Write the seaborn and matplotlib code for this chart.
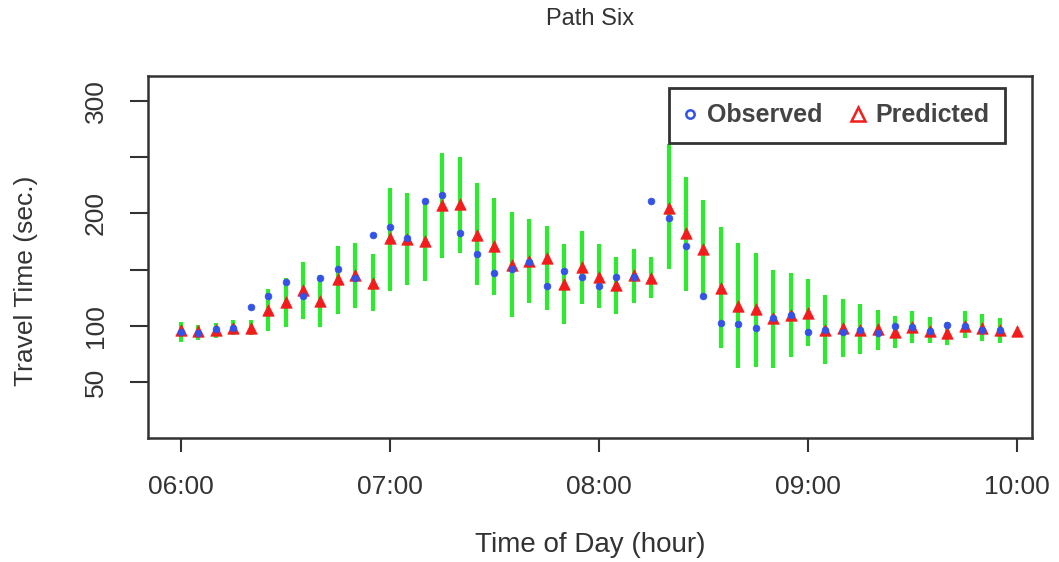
import numpy as np
import pandas as pd
import matplotlib
matplotlib.use("Agg")
import matplotlib.pyplot as plt
from matplotlib.lines import Line2D
import seaborn as sns

# 5-minute intervals, 06:00 - 10:00
times = ["06:00", "06:05", "06:10", "06:15", "06:20", "06:25", "06:30", "06:35", "06:40", "06:45",
         "06:50", "06:55", "07:00", "07:05", "07:10", "07:15", "07:20", "07:25", "07:30", "07:35",
         "07:40", "07:45", "07:50", "07:55", "08:00", "08:05", "08:10", "08:15", "08:20", "08:25",
         "08:30", "08:35", "08:40", "08:45", "08:50", "08:55", "09:00", "09:05", "09:10", "09:15",
         "09:20", "09:25", "09:30", "09:35", "09:40", "09:45", "09:50", "09:55", "10:00"]

observed = [95, 94, 97, 98.5, 116.6, 127, 139, 127, 142.4, 150.4,
            142.4, 181, 187.8, 178.6, 211.5, 216.5, 182.5, 164, 147, 150.4,
            156.7, 135.6, 149, 143.9, 135.6, 143.9, 143.9, 211.5, 195.8, 171,
            127, 103, 101.5, 98, 106.8, 109.8, 94.4, 96.4, 95, 96.4,
            93.5, 100, 99.4, 95.8, 100.9, 100.3, 96.4, 96.4, np.nan]

predicted = [96.5, 95.5, 96.5, 98.5, 98, 114, 121, 132, 122.5, 141.5,
             145, 138.5, 178, 177.4, 175.4, 207.7, 208.3, 181, 171, 154,
             157.5, 160.8, 137.4, 152, 143.9, 136.5, 145.4, 142.4, 204.7, 182.5,
             168.5, 134, 117.8, 115, 106.8, 109.8, 111.3, 96.4, 98, 96.4,
             97.3, 95, 99.4, 95.8, 94, 100.3, 98, 96.4, 95.5]

lower = [86, 87.5, 89, 92, 92, 95.8, 99.4, 106, 99.4, 111,
         116, 113.6, 131, 136.5, 140, 160, 165, 136.5, 127.6, 108.3,
         120.7, 114, 101.5, 119.6, 116.3, 111, 120.7, 124.6, 150.4, 131.4,
         125, 80, 62.4, 63.8, 62.4, 72.7, 82, 66, 72.5, 75,
         78.6, 80, 85, 84.6, 83, 89, 87, 85, np.nan]

upper = [103.8, 101, 102.4, 105, 105, 132.6, 143, 157, 145, 171,
         174, 164, 223, 218.6, 211.5, 253.6, 250.6, 227, 213.6, 201.7,
         195, 189, 172.7, 184.5, 172.7, 161, 168, 161, 262, 232,
         212, 187.8, 173.6, 164.7, 149.8, 147.4, 141.5, 127.6, 124, 119.3,
         114, 108.9, 113.6, 108.3, 103.9, 113.6, 110.7, 107.4, np.nan]

hour_ticks = [6, 7, 8, 9, 10]
hour_labels = ["06:00", "07:00", "08:00", "09:00", "10:00"]
y_ticks = [50, 100, 150, 200, 250, 300]
y_labels = ["50", "100", "", "200", "", "300"]

df = pd.DataFrame({"time": times, "observed": observed, "predicted": predicted,
                   "lower": lower, "upper": upper})
df["hour"] = [int(t[:2]) + int(t[3:]) / 60 for t in df["time"]]

sns.set_theme(style="white")
plt.rcParams["font.family"] = ["Liberation Sans", "DejaVu Sans"]

BLUE = "#3352e6"
RED = "#f21c1c"
GREEN = "#2eea2e"
DARK = "#333333"

fig = plt.figure(figsize=(10.59, 5.62), dpi=100)
ax = fig.add_axes([148 / 1059, 1 - 438 / 562, 884 / 1059, 362 / 562])

ax.vlines(df["hour"], df["lower"], df["upper"], color=GREEN, lw=3, zorder=1)
sns.scatterplot(data=df, x="hour", y="predicted", marker="^", s=68, color=RED,
                edgecolor=RED, linewidth=0.5, ax=ax, zorder=2, legend=False)
sns.scatterplot(data=df, x="hour", y="observed", marker="o", s=24, color=BLUE,
                edgecolor=BLUE, linewidth=0.5, ax=ax, zorder=3, legend=False)

ax.set_xlim(5.842, 10.072)
ax.set_ylim(0.4, 322.2)
ax.set_xticks(hour_ticks)
ax.set_xticklabels(hour_labels)
ax.set_yticks(y_ticks)
ax.set_yticklabels(y_labels, rotation=90, va="center")

for sp in ax.spines.values():
    sp.set_color(DARK)
    sp.set_linewidth(1.8)
ax.tick_params(axis="x", length=10, width=1.5, color=DARK, labelsize=19,
               labelcolor=DARK, pad=17, bottom=True, direction="out")
ax.tick_params(axis="y", length=13, width=1.5, color=DARK, labelsize=19,
               labelcolor=DARK, pad=16, left=True, direction="out")

ax.set_xlabel("Time of Day (hour)", fontsize=20, color=DARK)
ax.xaxis.label.set_va("center")
ax.xaxis.set_label_coords(0.5, -(545 - 438) / 362)
ax.set_ylabel("Travel Time (sec.)", fontsize=19, color=DARK)
ax.yaxis.label.set_va("center")
ax.yaxis.set_label_coords((26 - 148) / 884, (438 - 281) / 362)

ax.set_title("Path Six", fontsize=17, color=DARK,
             y=1 + (76 - 19) / 362, va="center", pad=0)

handles = [
    Line2D([], [], ls="", marker="o", markersize=6, markerfacecolor="none",
           markeredgecolor=BLUE, markeredgewidth=1.8, label="Observed"),
    Line2D([], [], ls="", marker="^", markersize=10, markerfacecolor="none",
           markeredgecolor=RED, markeredgewidth=1.8, label="Predicted"),
]
leg = ax.legend(handles=handles, ncol=2, loc="upper left",
                bbox_to_anchor=((669 - 148) / 884, (438 - 88) / 362),
                borderaxespad=0, frameon=True, fancybox=False, framealpha=1,
                edgecolor=DARK, prop={"size": 18, "weight": "bold"},
                handlelength=0.45, handletextpad=0.45, columnspacing=1.2,
                borderpad=0.62)
leg.get_frame().set_linewidth(2)
for t in leg.get_texts():
    t.set_color("#444444")
leg.set_zorder(5)

fig.savefig("out.png", dpi=100)
